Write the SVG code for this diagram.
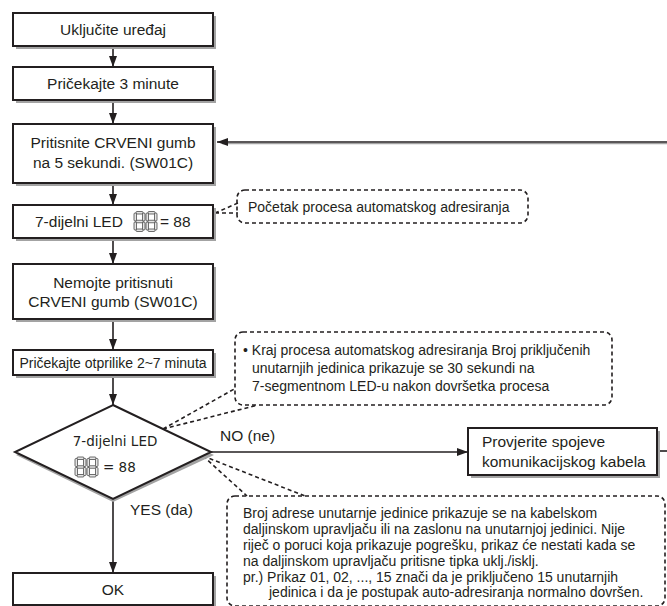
<svg xmlns="http://www.w3.org/2000/svg" width="667" height="606" viewBox="0 0 667 606">
<defs>
<style>
.box{fill:#fff;stroke:#231f20;stroke-width:2}
.sh{fill:#a3a3a3}
.t{font-family:"Liberation Sans",Arial,sans-serif;font-size:15.5px;fill:#231f20}
.c{text-anchor:middle}
.s{font-size:14px}
.m{font-size:14px}
.dj{font-family:"DejaVu Sans",sans-serif;font-size:13.5px}
.ln{stroke:#231f20;stroke-width:1.6;fill:none}
.dash{stroke:#231f20;stroke-width:1.6;fill:none;stroke-dasharray:4 3}
.seg{fill:#e4e4e4;stroke:#333;stroke-width:0.7}
</style>
<marker id="ah" viewBox="0 0 11 8" refX="11" refY="4" markerWidth="11" markerHeight="8" orient="auto" markerUnits="userSpaceOnUse">
<path d="M0,0 L11,4 L0,8 z" fill="#231f20"/>
</marker>
<g id="d8">
<rect class="seg" x="2" y="0" width="7" height="2.5" rx="1"/>
<rect class="seg" x="8.5" y="1.5" width="2.5" height="8" rx="1"/>
<rect class="seg" x="8.5" y="10.5" width="2.5" height="8" rx="1"/>
<rect class="seg" x="2" y="17.5" width="7" height="2.5" rx="1"/>
<rect class="seg" x="0" y="10.5" width="2.5" height="8" rx="1"/>
<rect class="seg" x="0" y="1.5" width="2.5" height="8" rx="1"/>
<rect class="seg" x="2" y="8.75" width="7" height="2.5" rx="1"/>
</g>
</defs>
<rect width="667" height="606" fill="#fff"/>

<g id="connectors">
<path class="ln" d="M113,46 V67" marker-end="url(#ah)"/>
<path class="ln" d="M113,100 V124" marker-end="url(#ah)"/>
<path class="ln" d="M113,183 V205" marker-end="url(#ah)"/>
<path class="ln" d="M113,238 V264" marker-end="url(#ah)"/>
<path class="ln" d="M113,319 V350" marker-end="url(#ah)"/>
<path class="ln" d="M113,375 V405" marker-end="url(#ah)"/>
<path class="ln" d="M113,499 V573" marker-end="url(#ah)"/>
<path d="M667,143.6 H222" stroke="#a3a3a3" stroke-width="1.4" fill="none"/>
<path class="ln" d="M667,142 H217" marker-end="url(#ah)"/>
<path class="ln" d="M211,452 H468" marker-end="url(#ah)"/>
<path class="ln" d="M659,451 H667"/>
<path class="dash" d="M215,213 L238,203 M215,213 L238,213"/>
<path class="dash" d="M163,429 L236,388 M163,429 L258,405"/>
<path class="dash" d="M203,456 L247,496 M203,456 L305,496"/>
</g>

<g id="n1"><rect class="sh" x="16" y="16" width="200" height="33"/><rect class="box" x="13" y="13" width="200" height="33"/><text class="t c" x="113" y="35">Uključite uređaj</text></g>
<g id="n2"><rect class="sh" x="16" y="70" width="200" height="33"/><rect class="box" x="13" y="67" width="200" height="33"/><text class="t c" x="113" y="89">Pričekajte 3 minute</text></g>
<g id="n3"><rect class="sh" x="16" y="127" width="200" height="59"/><rect class="box" x="13" y="124" width="200" height="59"/><text class="t c" x="113" y="147.5">Pritisnite CRVENI gumb</text><text class="t c" x="113" y="167.5">na 5 sekundi. (SW01C)</text></g>
<g id="n4"><rect class="sh" x="16" y="208" width="200" height="33"/><rect class="box" x="13" y="205" width="200" height="33"/><text class="t" x="35" y="227">7-dijelni LED</text><use href="#d8" x="134" y="211.5"/><use href="#d8" x="146" y="211.5"/><text class="t" x="160" y="227">= 88</text></g>
<g id="n5"><rect class="sh" x="16" y="267" width="200" height="55"/><rect class="box" x="13" y="264" width="200" height="55"/><text class="t c" x="113" y="287.5">Nemojte pritisnuti</text><text class="t c" x="113" y="306.5">CRVENI gumb (SW01C)</text></g>
<g id="n6"><rect class="sh" x="16" y="353" width="200" height="25"/><rect class="box" x="13" y="350" width="200" height="25"/><text class="t c" x="113" y="367.5" style="font-size:14px">Pričekajte otprilike 2~7 minuta</text></g>
<g id="n7"><polygon points="113,408 214,455 113,502 16,455" fill="#a3a3a3"/><polygon points="113,405 211,452 113,499 15,452" fill="#fff" stroke="#231f20" stroke-width="2"/><text class="t dj c" x="115" y="446">7-dijelni LED</text><use href="#d8" x="75" y="457"/><use href="#d8" x="87" y="457"/><text class="t dj" x="103" y="472">= 88</text></g>
<g id="n8"><rect class="sh" x="471" y="431" width="189" height="47"/><rect class="box" x="468" y="428" width="189" height="47"/><text class="t" x="482" y="446.5">Provjerite spojeve</text><text class="t" x="482" y="466.5">komunikacijskog kabela</text></g>
<g id="n9"><rect class="sh" x="16" y="576" width="200" height="32"/><rect class="box" x="13" y="573" width="200" height="32"/><text class="t c" x="113" y="594.5">OK</text></g>

<g id="c1"><rect class="dash" x="237" y="190" width="291" height="33" rx="8"/><text class="t m" x="248" y="212">Početak procesa automatskog adresiranja</text></g>
<g id="c2"><rect class="dash" x="235" y="332" width="377" height="73" rx="8"/><text class="t m" x="243" y="355">• Kraj procesa automatskog adresiranja Broj priključenih</text><text class="t m" x="252" y="373">unutarnjih jedinica prikazuje se 30 sekundi na</text><text class="t m" x="252" y="391">7-segmentnom LED-u nakon dovršetka procesa</text></g>
<g id="c3"><rect class="dash" x="227" y="496" width="438" height="110" rx="8"/>
<text class="t s" x="243" y="518">Broj adrese unutarnje jedinice prikazuje se na kabelskom</text>
<text class="t s" x="243" y="534">daljinskom upravljaču ili na zaslonu na unutarnjoj jedinici. Nije</text>
<text class="t s" x="243" y="550">riječ o poruci koja prikazuje pogrešku, prikaz će nestati kada se</text>
<text class="t s" x="243" y="566">na daljinskom upravljaču pritisne tipka uklj./isklj.</text>
<text class="t s" x="243" y="582">pr.) Prikaz 01, 02, ..., 15 znači da je priključeno 15 unutarnjih</text>
<text class="t s" x="269" y="597">jedinica i da je postupak auto-adresiranja normalno dovršen.</text>
</g>
<text class="t" x="220" y="441">NO (ne)</text>
<text class="t" x="130" y="515">YES (da)</text>
</svg>
